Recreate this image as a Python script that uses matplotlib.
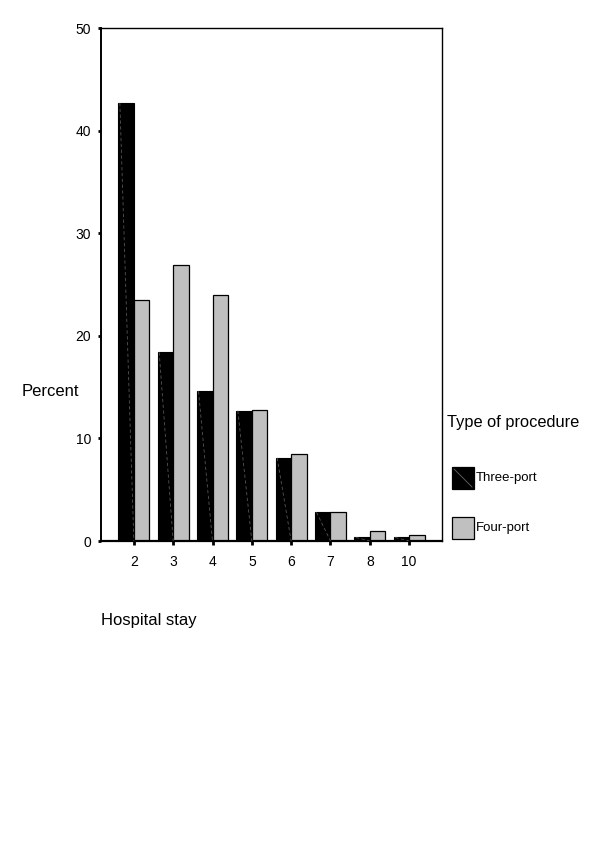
import numpy as np
import matplotlib
matplotlib.use("Agg")
import matplotlib.pyplot as plt
from matplotlib.patches import Rectangle

plt.rcParams['font.family'] = ['Liberation Sans', 'DejaVu Sans']

stays = ['2', '3', '4', '5', '6', '7', '8', '10']
three_port = [42.7, 18.4, 14.6, 12.7, 8.1, 2.8, 0.35, 0.35]
four_port = [23.5, 26.9, 24.0, 12.8, 8.5, 2.85, 1.0, 0.6]
yticks = [0, 10, 20, 30, 40, 50]

black = '#000000'
grey = '#c0c0c0'
w = 0.395

fig = plt.figure(figsize=(6, 8.5), dpi=100)
ax = fig.add_axes([0.168, 0.3635, 0.569, 0.6035])

x = np.arange(len(stays))
b1 = ax.bar(x - w / 2, three_port, w, color=black, edgecolor='black', linewidth=0.8)
b2 = ax.bar(x + w / 2, four_port, w, color=grey, edgecolor='black', linewidth=0.9)

# faint diagonal dashes inside the black bars
for r in b1:
    x0, x1 = r.get_x(), r.get_x() + r.get_width()
    ax.plot([x0 + 0.1 * w, x1], [r.get_height(), 0], color='#555555',
            lw=0.6, ls=(0, (4, 3)), zorder=3)

ax.set_xlim(-0.84, len(stays) - 1 + 0.84)
ax.set_ylim(0, 50)
ax.set_xticks(x)
ax.set_xticklabels(stays, fontsize=10)
ax.set_yticks(yticks)
ax.set_yticklabels([str(t) for t in yticks], fontsize=10)
ax.tick_params(axis='y', length=2, width=2, pad=5)
ax.tick_params(axis='x', length=3, width=2, pad=7)
for s in ax.spines.values():
    s.set_linewidth(1.0)
ax.spines['bottom'].set_linewidth(1.6)
ax.spines['left'].set_linewidth(1.4)

fig.text(22 / 600, 1 - 392 / 850, 'Percent', fontsize=12, va='center', ha='left')
fig.text(101 / 600, 1 - 620 / 850, 'Hospital stay', fontsize=12, va='center', ha='left')
fig.text(447 / 600, 1 - 422 / 850, 'Type of procedure', fontsize=11.8, va='center', ha='left')

# legend
labels = ['Three-port', 'Four-port']
colors = [black, grey]
for i, (lab, col) in enumerate(zip(labels, colors)):
    yc = 1 - (478 + 50 * i) / 850
    fig.add_artist(Rectangle((452 / 600, yc - 11 / 850), 22 / 600, 22 / 850,
                             transform=fig.transFigure, facecolor=col,
                             edgecolor='black', linewidth=0.9))
    if i == 0:
        fig.add_artist(plt.Line2D([454 / 600, 472 / 600], [yc + 9 / 850, yc - 9 / 850],
                                  transform=fig.transFigure, color='#666666', lw=0.6))
    fig.text(476 / 600, yc, lab, fontsize=9.5, va='center', ha='left')

fig.savefig('out.png', dpi=100)
